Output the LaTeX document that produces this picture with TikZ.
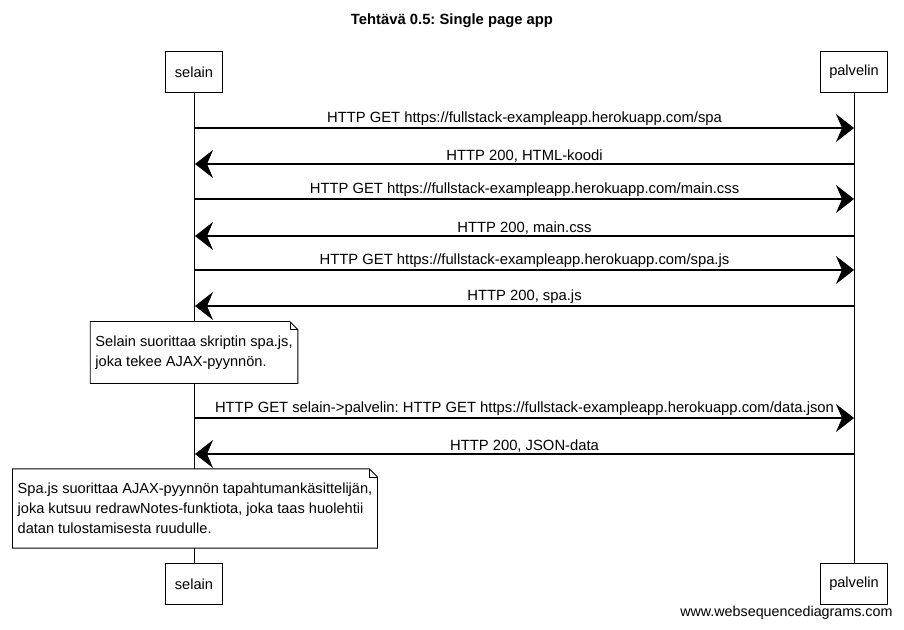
\documentclass[tikz,border=0pt]{standalone}
\usepackage{fontspec}
\setmainfont{Liberation Sans}
\frenchspacing
\usetikzlibrary{arrows.meta, positioning, calc}

\begin{document}
\begin{tikzpicture}[x=1pt, y=-1pt,
  actor/.style={draw, line width=0.9pt, minimum height=41pt, inner xsep=9pt, font=\fontsize{14.6}{17}\selectfont},
  msg/.style={line width=1.1pt, -{Stealth[length=18pt, width=28pt, inset=6pt]}},
  lbl/.style={above, inner sep=1.5pt, font=\fontsize{14.8}{17}\selectfont},
  note/.style={fill=white, align=left, inner xsep=5pt, inner ysep=14pt, font=\fontsize{14.6}{20}\selectfont},
]
  \useasboundingbox (0,0) rectangle (904,629);
  \node[font=\bfseries\fontsize{14.8}{17}\selectfont] (title) at (452,21) {Tehtävä 0.5: Single page app};

  % actors
  \node[actor] (selainTop) at (194,72) {selain};
  \node[actor] (palvelinTop) at (854,72) {palvelin};
  \node[actor] (selainBot) at (194,584) {selain};
  \node[actor] (palvelinBot) at (854,584) {palvelin};
  \draw[line width=0.7pt] (selainTop) -- (selainBot);
  \draw[line width=0.7pt] (palvelinTop) -- (palvelinBot);

  \foreach \y [count=\i] in {128,164,199,236,270,306,418,454} {
    \coordinate (s\i) at (195,\y);
    \coordinate (p\i) at (854,\y);
  }

  % messages
  \draw[msg] (s1) -- node[lbl] {HTTP GET https://fullstack-exampleapp.herokuapp.com/spa} (p1);
  \draw[msg] (p2) -- node[lbl] {HTTP 200, HTML-koodi} (s2);
  \draw[msg] (s3) -- node[lbl] {HTTP GET https://fullstack-exampleapp.herokuapp.com/main.css} (p3);
  \draw[msg] (p4) -- node[lbl] {HTTP 200, main.css} (s4);
  \draw[msg] (s5) -- node[lbl] {HTTP GET https://fullstack-exampleapp.herokuapp.com/spa.js} (p5);
  \draw[msg] (p6) -- node[lbl] {HTTP 200, spa.js} (s6);
  \draw[msg] (s7) -- node[lbl] {HTTP GET selain->palvelin: HTTP GET https://fullstack-exampleapp.herokuapp.com/data.json} (p7);
  \draw[msg] (p8) -- node[lbl] {HTTP 200, JSON-data} (s8);

  % notes
  \node[note] (note1) at (194,352.5) {Selain suorittaa skriptin spa.js,\\joka tekee AJAX-pyynnön.};
  \node[note] (note2) at (195,508.5) {Spa.js suorittaa AJAX-pyynnön tapahtumankäsittelijän,\\joka kutsuu redrawNotes-funktiota, joka taas huolehtii\\datan tulostamisesta ruudulle.};
  \foreach \n in {note1, note2} {
    \draw[line width=0.9pt] (\n.north west) -- ($(\n.north east)+(-8,0)$) -- ($(\n.north east)+(0,8)$)
      -- (\n.south east) -- (\n.south west) -- cycle;
    \draw[line width=0.6pt] ($(\n.north east)+(-8,0)$) -- ($(\n.north east)+(-8,8)$) -- ($(\n.north east)+(0,8)$);
  }

  \node[anchor=east, font=\fontsize{14.3}{17}\selectfont] (footer) at (896,613) {www.websequencediagrams.com};
\end{tikzpicture}
\end{document}
